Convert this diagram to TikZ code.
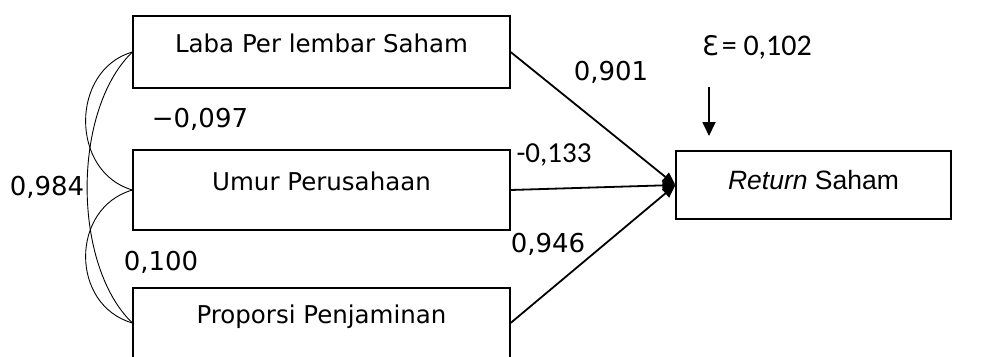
\documentclass[tikz,border=0pt]{standalone}
\usepackage{fontspec}
\setmainfont{DejaVu Sans}
\newfontfamily\calfont{Carlito}
\newfontfamily\helvfont{Liberation Sans}
\usetikzlibrary{arrows.meta}
\begin{document}
\begin{tikzpicture}[x=1pt,y=-1pt,
  varbox/.style={draw,line width=1.2pt,minimum width=377pt,inner sep=0pt,
    font=\fontsize{24.5}{28}\selectfont,text height=12pt,text depth=12pt},
  numlab/.style={anchor=base,inner sep=0pt,font=\fontsize{26}{30}\selectfont},
  corr/.style={line width=0.9pt},
  path/.style={line width=1.8pt,-{Triangle[length=13pt,width=11pt]}}]
\useasboundingbox (0,0) rectangle (984,356);
\node[varbox,minimum height=72pt] (b1) at (321.5,52) {Laba Per lembar Saham};
\node[varbox,minimum height=80pt] (b2) at (321.5,190) {Umur Perusahaan};
\node[varbox,minimum height=70pt] (b3) at (321.5,323) {Proporsi Penjaminan};
\node[draw,line width=1.2pt,minimum width=275pt,minimum height=68pt,inner sep=0pt,
  font=\helvfont\fontsize{26.5}{30}\selectfont,text height=18pt,text depth=10pt]
  (ret) at (813.5,185) {\textit{Return} Saham};
% correlations
\draw[corr] (b1.west) .. controls (70,70) and (70,172) .. (b2.west);
\draw[corr] (b2.west) .. controls (70,208) and (70,305) .. (b3.west);
\draw[corr] (b1.west) .. controls (72,110) and (72,265) .. (b3.west);
% paths
\draw[path] (b1.east) -- (ret.west);
\draw[path] (b2.east) -- (ret.west);
\draw[path] (b3.east) -- (ret.west);
% error
\coordinate (eTop) at (709,87);
\coordinate (eEnd) at (709,136);
\draw[line width=1.8pt,-{Triangle[length=14pt,width=13pt]}] (eTop) -- (eEnd);
\node[anchor=base west,inner sep=0pt] (eps) at (702,55)
  {\fontsize{27}{30}\selectfont Ɛ\hspace{3pt}\calfont\fontsize{30}{33}\selectfont= 0,102};
% labels
\node[numlab] (l984) at (47,195) {0,984};
\node[numlab] (l097) at (200,127) {−0,097};
\node[numlab] (l100) at (161,270) {0,100};
\node[numlab] (l901) at (611,80) {0,901};
\node[numlab] (l946) at (548,252) {0,946};
\node[anchor=base,inner sep=0pt,font=\calfont\fontsize{29}{32}\selectfont] (l133) at (554,162) {-0,133};
\end{tikzpicture}
\end{document}
